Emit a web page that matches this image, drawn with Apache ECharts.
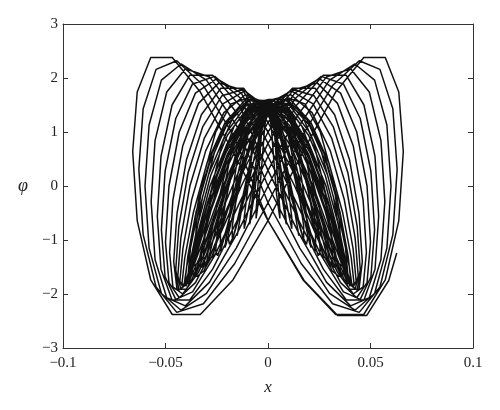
<!DOCTYPE html>
<html>
<head>
<meta charset="utf-8">
<script src="https://cdn.jsdelivr.net/npm/echarts@6/dist/echarts.min.js"></script>
<style>html,body{margin:0;padding:0;background:#fff;}#chart{width:500px;height:410px;}</style>
</head>
<body>
<div id="chart"></div>
<script>
// Axis ticks
const xTicks = [-0.1, -0.05, 0, 0.05, 0.1];
const yTicks = [-3, -2, -1, 0, 1, 2, 3];

// Trajectory, loop by loop (x values and phi values)
// tiny loops near the centre
const xT1 = [0,.0016,.003,.0042,.0052,.0058,.006,.0058,.0052,.0042,.003,.0016,0,-.0016,-.003,-.0042,-.0052,-.0058,-.006,-.0058,-.0052,-.0042,-.003,-.0016];
const pT1 = [1.50,1.10,.40,-.16,-.44,-.60,-.60,-.44,-.16,.40,1.10,1.50,1.50,1.10,.40,-.16,-.44,-.60,-.60,-.44,-.16,.40,1.10,1.50];
const xT2 = [0,.0023,.0045,.0064,.0078,.0087,.009,.0087,.0078,.0064,.0045,.0023,0,-.0023,-.0045,-.0064,-.0078,-.0087,-.009,-.0087,-.0078,-.0064,-.0045,-.0023];
const pT2 = [1.54,1.23,.59,-.09,-.44,-.67,-.71,-.57,-.28,.20,.94,1.43,1.54,1.23,.59,-.09,-.44,-.67,-.71,-.57,-.28,.20,.94,1.43];
const xT3 = [0,.0031,.006,.0085,.0104,.0116,.012,.0116,.0104,.0085,.006,.0031,0,-.0031,-.006,-.0085,-.0104,-.0116,-.012,-.0116,-.0104,-.0085,-.006,-.0031];
const pT3 = [1.51,1.10,.40,-.21,-.58,-.79,-.79,-.58,-.21,.40,1.10,1.51,1.51,1.10,.40,-.21,-.58,-.79,-.79,-.58,-.21,.40,1.10,1.51];
const xT4 = [0,.0039,.0075,.0106,.013,.0145,.015,.0145,.013,.0106,.0075,.0039,0,-.0039,-.0075,-.0106,-.013,-.0145,-.015,-.0145,-.013,-.0106,-.0075,-.0039];
const pT4 = [1.53,1.32,.77,0,-.46,-.80,-.92,-.80,-.46,0,.77,1.32,1.53,1.32,.77,0,-.46,-.80,-.92,-.80,-.46,0,.77,1.32];
// narrow loops (dense central band)
const xM1 = [0,.0047,.009,.0127,.0156,.0174,.018,.0174,.0156,.0127,.009,.0047,0,-.0047,-.009,-.0127,-.0156,-.0174,-.018,-.0174,-.0156,-.0127,-.009,-.0047];
const pM1 = [1.51,1.10,.40,-.27,-.74,-1.01,-1.01,-.74,-.27,.40,1.10,1.51,1.51,1.10,.40,-.27,-.74,-1.01,-1.01,-.74,-.27,.40,1.10,1.51];
const xMa = [0,.0051,.0098,.0138,.0169,.0188,.0195,.0188,.0169,.0138,.0098,.0051,0,-.0051,-.0098,-.0138,-.0169,-.0188,-.0195,-.0188,-.0169,-.0138,-.0098,-.0051];
const pMa = [1.37,.79,0,-.54,-.94,-1.08,-.94,-.54,0,.79,1.37,1.58,1.37,.79,0,-.54,-.94,-1.08,-.94,-.54,0,.79,1.37,1.58];
const xM2 = [0,.0054,.0105,.0148,.0182,.0203,.021,.0203,.0182,.0148,.0105,.0054,0,-.0054,-.0105,-.0148,-.0182,-.0203,-.021,-.0203,-.0182,-.0148,-.0105,-.0054];
const pM2 = [1.54,1.23,.59,-.15,-.70,-1.06,-1.14,-.91,-.44,.20,.94,1.43,1.54,1.23,.59,-.15,-.70,-1.06,-1.14,-.91,-.44,.20,.94,1.43];
const xM3 = [0,.0062,.012,.017,.0208,.0232,.024,.0232,.0208,.017,.012,.0062,0,-.0062,-.012,-.017,-.0208,-.0232,-.024,-.0232,-.0208,-.017,-.012,-.0062];
const pM3 = [1.52,1.11,.41,-.32,-.88,-1.21,-1.21,-.88,-.32,.41,1.11,1.52,1.52,1.11,.41,-.32,-.88,-1.21,-1.21,-.88,-.32,.41,1.11,1.52];
const xMb = [0,.0066,.0128,.018,.0221,.0246,.0255,.0246,.0221,.018,.0128,.0066,0,-.0066,-.0128,-.018,-.0221,-.0246,-.0255,-.0246,-.0221,-.018,-.0128,-.0066];
const pMb = [1.46,.96,.21,-.50,-1.03,-1.29,-1.20,-.79,-.17,.61,1.25,1.57,1.46,.96,.21,-.50,-1.03,-1.29,-1.20,-.79,-.17,.61,1.25,1.57];
const xM4 = [0,.007,.0135,.0191,.0234,.0261,.027,.0261,.0234,.0191,.0135,.007,0,-.007,-.0135,-.0191,-.0234,-.0261,-.027,-.0261,-.0234,-.0191,-.0135,-.007];
const pM4 = [1.53,1.32,.77,0,-.68,-1.17,-1.35,-1.17,-.68,0,.77,1.32,1.53,1.32,.77,0,-.68,-1.17,-1.35,-1.17,-.68,0,.77,1.32];
const xM5 = [0,.0078,.015,.0212,.026,.029,.03,.029,.026,.0212,.015,.0078,0,-.0078,-.015,-.0212,-.026,-.029,-.03,-.029,-.026,-.0212,-.015,-.0078];
const pM5 = [1.54,1.23,.59,-.19,-.88,-1.34,-1.44,-1.15,-.56,.20,.94,1.43,1.54,1.23,.59,-.19,-.88,-1.34,-1.44,-1.15,-.56,.20,.94,1.43];
const xMc = [0,.0082,.0158,.0223,.0273,.0304,.0315,.0304,.0273,.0223,.0158,.0082,0,-.0082,-.0158,-.0223,-.0273,-.0304,-.0315,-.0304,-.0273,-.0223,-.0158,-.0082];
const pMc = [1.39,.80,0,-.75,-1.30,-1.50,-1.30,-.75,0,.80,1.39,1.60,1.39,.80,0,-.75,-1.30,-1.50,-1.30,-.75,0,.80,1.39,1.60];
const xM6 = [0,.0085,.0165,.0233,.0286,.0319,.033,.0319,.0286,.0233,.0165,.0085,0,-.0085,-.0165,-.0233,-.0286,-.0319,-.033,-.0319,-.0286,-.0233,-.0165,-.0085];
const pM6 = [1.52,1.11,.41,-.40,-1.10,-1.50,-1.50,-1.10,-.40,.41,1.11,1.52,1.52,1.11,.41,-.40,-1.10,-1.50,-1.50,-1.10,-.40,.41,1.11,1.52];
const xM7 = [0,.0091,.0175,.0247,.0303,.0338,.035,.0338,.0303,.0247,.0175,.0091,0,-.0091,-.0175,-.0247,-.0303,-.0338,-.035,-.0338,-.0303,-.0247,-.0175,-.0091];
const pM7 = [1.53,1.32,.77,0,-.81,-1.40,-1.62,-1.40,-.81,0,.77,1.32,1.53,1.32,.77,0,-.81,-1.40,-1.62,-1.40,-.81,0,.77,1.32];
const xMd = [0,.0093,.018,.0255,.0312,.0348,.036,.0348,.0312,.0255,.018,.0093,0,-.0093,-.018,-.0255,-.0312,-.0348,-.036,-.0348,-.0312,-.0255,-.018,-.0093];
const pMd = [1.31,.63,-.22,-1.04,-1.57,-1.68,-1.35,-.65,.22,1.00,1.52,1.64,1.31,.63,-.22,-1.04,-1.57,-1.68,-1.35,-.65,.22,1.00,1.52,1.64];
const xM8 = [0,.0096,.0185,.0262,.032,.0357,.037,.0357,.032,.0262,.0185,.0096,0,-.0096,-.0185,-.0262,-.032,-.0357,-.037,-.0357,-.032,-.0262,-.0185,-.0096];
const pM8 = [1.48,.97,.21,-.65,-1.35,-1.68,-1.57,-1.04,-.22,.61,1.27,1.59,1.48,.97,.21,-.65,-1.35,-1.68,-1.57,-1.04,-.22,.61,1.27,1.59];
// loops opening outwards
const xL21 = [0,.01,.0193,.0272,.0333,.0372,.0385,.0372,.0333,.0272,.0193,.01,0,-.01,-.0193,-.0272,-.0333,-.0372,-.0385,-.0372,-.0333,-.0272,-.0193,-.01];
const pL21 = [1.53,1.32,.77,0,-.90,-1.56,-1.80,-1.56,-.90,0,.77,1.32,1.53,1.32,.77,0,-.90,-1.56,-1.80,-1.56,-.90,0,.77,1.32];
const xL19 = [0,.0102,.0198,.0279,.0342,.0382,.0395,.0382,.0342,.0279,.0198,.0102,0,-.0102,-.0198,-.0279,-.0342,-.0382,-.0395,-.0382,-.0342,-.0279,-.0198,-.0102];
const pL19 = [1.54,1.23,.59,-.24,-1.11,-1.69,-1.81,-1.45,-.70,.20,.94,1.43,1.54,1.23,.59,-.24,-1.11,-1.69,-1.81,-1.45,-.70,.20,.94,1.43];
const xL16 = [0,.0105,.0203,.0286,.0351,.0391,.0405,.0391,.0351,.0286,.0203,.0105,0,-.0105,-.0203,-.0286,-.0351,-.0391,-.0405,-.0391,-.0351,-.0286,-.0203,-.0105];
const pL16 = [1.53,1.12,.41,-.48,-1.30,-1.78,-1.78,-1.30,-.48,.41,1.12,1.53,1.53,1.12,.41,-.48,-1.30,-1.78,-1.78,-1.30,-.48,.41,1.12,1.53];
const xL20 = [0,.0101,.0195,.0276,.0338,.0377,.039,.0377,.0338,.0276,.0195,.0101,0,-.0101,-.0195,-.0276,-.0338,-.0377,-.039,-.0377,-.0338,-.0276,-.0195,-.0101];
const pL20 = [1.40,.93,.20,-.69,-1.43,-1.78,-1.66,-1.10,-.24,.58,1.21,1.51,1.40,.93,.20,-.69,-1.43,-1.78,-1.66,-1.10,-.24,.58,1.21,1.51];
const xL15 = [0,.0104,.02,.0283,.0346,.0386,.04,.0386,.0346,.0283,.02,.0104,0,-.0104,-.02,-.0283,-.0346,-.0386,-.04,-.0386,-.0346,-.0283,-.02,-.0104];
const pL15 = [1.56,1.35,.78,0,-.93,-1.61,-1.86,-1.61,-.93,0,.78,1.35,1.56,1.35,.78,0,-.93,-1.61,-1.86,-1.61,-.93,0,.78,1.35];
const xL14 = [0,.0106,.0205,.029,.0355,.0396,.041,.0396,.0355,.029,.0205,.0106,0,-.0106,-.0205,-.029,-.0355,-.0396,-.041,-.0396,-.0355,-.029,-.0205,-.0106];
const pL14 = [1.60,1.28,.62,-.24,-1.14,-1.73,-1.85,-1.48,-.72,.21,.98,1.49,1.60,1.28,.62,-.24,-1.14,-1.73,-1.85,-1.48,-.72,.21,.98,1.49];
const xL13 = [0,.0109,.021,.0297,.0364,.0406,.042,.0406,.0364,.0297,.021,.0109,0,-.0109,-.021,-.0297,-.0364,-.0406,-.042,-.0406,-.0364,-.0297,-.021,-.0109];
const pL13 = [1.60,1.17,.43,-.49,-1.33,-1.82,-1.82,-1.33,-.49,.43,1.17,1.60,1.60,1.17,.43,-.49,-1.33,-1.82,-1.82,-1.33,-.49,.43,1.17,1.60];
const xL12 = [0,.0111,.0215,.0304,.0372,.0415,.043,.0415,.0372,.0304,.0215,.0111,0,-.0111,-.0215,-.0304,-.0372,-.0415,-.043,-.0415,-.0372,-.0304,-.0215,-.0111];
const pL12 = [1.58,1.04,.22,-.73,-1.51,-1.88,-1.76,-1.16,-.25,.65,1.36,1.69,1.58,1.04,.22,-.73,-1.51,-1.88,-1.76,-1.16,-.25,.65,1.36,1.69];
const xL11 = [0,.0114,.022,.0311,.0381,.0425,.044,.0425,.0381,.0311,.022,.0114,0,-.0114,-.022,-.0311,-.0381,-.0425,-.044,-.0425,-.0381,-.0311,-.022,-.0114];
const pL11 = [1.52,.88,0,-.96,-1.66,-1.92,-1.66,-.96,0,.88,1.52,1.76,1.52,.88,0,-.96,-1.66,-1.92,-1.66,-.96,0,.88,1.52,1.76];
const xL10 = [0,.0117,.0225,.0318,.039,.0435,.045,.0435,.039,.0318,.0225,.0117,0,-.0117,-.0225,-.0318,-.039,-.0435,-.045,-.0435,-.039,-.0318,-.0225,-.0117];
const pL10 = [1.44,.69,-.26,-1.19,-1.80,-1.93,-1.55,-.75,.24,1.10,1.67,1.79,1.44,.69,-.26,-1.19,-1.80,-1.93,-1.55,-.75,.24,1.10,1.67,1.79];
const xL9 = [0,.0119,.023,.0325,.0398,.0444,.046,.0444,.0398,.0325,.023,.0119,0,-.0119,-.023,-.0325,-.0398,-.0444,-.046,-.0444,-.0398,-.0325,-.023,-.0119];
const pL9 = [1.32,.48,-.51,-1.40,-1.91,-1.91,-1.40,-.51,.48,1.32,1.81,1.81,1.32,.48,-.51,-1.40,-1.91,-1.91,-1.40,-.51,.48,1.32,1.81,1.81];
const xL8 = [0,.0124,.024,.0339,.0416,.0464,.048,.0464,.0416,.0339,.024,.0124,0,-.0124,-.024,-.0339,-.0416,-.0464,-.048,-.0464,-.0416,-.0339,-.024,-.0124];
const pL8 = [1.18,.25,-.77,-1.60,-2.00,-1.87,-1.23,-.26,.74,1.53,1.91,1.78,1.18,.25,-.77,-1.60,-2.00,-1.87,-1.23,-.26,.74,1.53,1.91,1.78];
const xL7 = [0,.013,.025,.0354,.0433,.0483,.05,.0483,.0433,.0354,.025,.013,0,-.013,-.025,-.0354,-.0433,-.0483,-.05,-.0483,-.0433,-.0354,-.025,-.013];
const pL7 = [1.00,0,-1.04,-1.79,-2.07,-1.79,-1.04,0,1.00,1.72,1.99,1.72,1.00,0,-1.04,-1.79,-2.07,-1.79,-1.04,0,1.00,1.72,1.99,1.72];
const xL6 = [0,.0135,.026,.0368,.045,.0502,.052,.0502,.045,.0368,.026,.0135,0,-.0135,-.026,-.0368,-.045,-.0502,-.052,-.0502,-.045,-.0368,-.026,-.0135];
const pL6 = [.79,-.28,-1.29,-1.96,-2.10,-1.68,-.81,.27,1.25,1.89,2.03,1.63,.79,-.28,-1.29,-1.96,-2.10,-1.68,-.81,.27,1.25,1.89,2.03,1.63];
const xL5 = [0,.014,.027,.0382,.0468,.0522,.054,.0522,.0468,.0382,.027,.014,0,-.014,-.027,-.0382,-.0468,-.0522,-.054,-.0522,-.0468,-.0382,-.027,-.014];
const pL5 = [.55,-.56,-1.54,-2.11,-2.11,-1.54,-.56,.55,1.50,2.05,2.05,1.50,.55,-.56,-1.54,-2.11,-2.11,-1.54,-.56,.55,1.50,2.05,2.05,1.50];
const xL4 = [0,.0148,.0285,.0403,.0494,.0551,.057,.0551,.0494,.0403,.0285,.0148,0,-.0148,-.0285,-.0403,-.0494,-.0551,-.057,-.0551,-.0494,-.0403,-.0285,-.0148];
const pL4 = [.29,-.86,-1.78,-2.22,-2.07,-1.36,-.29,.84,1.74,2.17,2.02,1.33,.29,-.86,-1.78,-2.22,-2.07,-1.36,-.29,.84,1.74,2.17,2.02,1.33];
const xL3 = [0,.0155,.03,.0424,.052,.058,.06,.058,.052,.0424,.03,.0155,0,-.0155,-.03,-.0424,-.052,-.058,-.06,-.058,-.052,-.0424,-.03,-.0155];
const pL3 = [0,-1.15,-1.99,-2.30,-1.99,-1.15,0,1.13,1.96,2.26,1.96,1.13,0,-1.15,-1.99,-2.30,-1.99,-1.15,0,1.13,1.96,2.26,1.96,1.13];
const xL2 = [0,.0163,.0315,.0445,.0546,.0609,.063,.0609,.0546,.0445,.0315,.0163,0,-.0163,-.0315,-.0445,-.0546,-.0609,-.063,-.0609,-.0546,-.0445,-.0315,-.0163];
const pL2 = [-.31,-1.44,-2.18,-2.34,-1.87,-.90,.31,1.43,2.16,2.32,1.86,.90,-.31,-1.44,-2.18,-2.34,-1.87,-.90,.31,1.43,2.16,2.32,1.86,.90];
const xL1 = [0,.0171,.033,.0467,.0572,.0638,.066,.0638,.0572,.0467,.033,.0171,0,-.0171,-.033,-.0467,-.0572,-.0638,-.066,-.0638,-.0572,-.0467,-.033,-.0171];
const pL1 = [-.64,-1.74,-2.38,-2.38,-1.74,-.64,.64,1.74,2.38,2.38,1.74,.64,-.64,-1.74,-2.38,-2.38,-1.74,-.64,.64,1.74,2.38,2.38,1.74,.64];
const xL0 = [0,.0176,.034,.0481,.0589,.0628];
const pL0 = [-.64,-1.75,-2.40,-2.40,-1.75,-1.24];

const loops = [
  [xT1,pT1],[xT2,pT2],[xT3,pT3],[xT4,pT4],
  [xM1,pM1],[xMa,pMa],[xM2,pM2],[xM3,pM3],[xMb,pMb],[xM4,pM4],[xM5,pM5],[xMc,pMc],
  [xM6,pM6],[xM7,pM7],[xMd,pMd],[xM8,pM8],
  [xL21,pL21],[xL19,pL19],[xL16,pL16],[xL20,pL20],[xL15,pL15],[xL14,pL14],
  [xL13,pL13],[xL12,pL12],[xL11,pL11],[xL10,pL10],[xL9,pL9],[xL8,pL8],
  [xL7,pL7],[xL6,pL6],[xL5,pL5],[xL4,pL4],[xL3,pL3],[xL2,pL2],[xL1,pL1],[xL0,pL0]
];
const data = [];
loops.forEach(function(l){ l[0].forEach(function(x,i){ data.push([x, l[1][i]]); }); });

function fmt(v){
  const r = Math.round(v*100)/100;
  return r < 0 ? '\u2212' + Math.abs(r) : String(r);
}
const serif = 'Liberation Serif';
const axisCol = '#333';
const lblStyle = {color:'#222', fontFamily:serif, fontSize:15};

const chart = echarts.init(document.getElementById('chart'), null, {renderer:'canvas'});
chart.setOption({
  animation:false,
  backgroundColor:'#fff',
  grid:{left:63, right:27, top:24, bottom:62, containLabel:false},
  xAxis:[
    {type:'value', min:xTicks[0], max:xTicks[xTicks.length-1], interval:0.05, position:'bottom',
     axisLine:{onZero:false, lineStyle:{color:axisCol, width:1}},
     axisTick:{inside:true, length:5, lineStyle:{color:axisCol}},
     axisLabel:Object.assign({margin:8, formatter:fmt}, lblStyle),
     splitLine:{show:false},
     name:'x', nameLocation:'middle', nameGap:31,
     nameTextStyle:{fontFamily:serif, fontStyle:'italic', fontSize:17, color:'#222'}},
    {type:'value', min:xTicks[0], max:xTicks[xTicks.length-1], interval:0.05, position:'top',
     axisLine:{onZero:false, lineStyle:{color:axisCol, width:1}},
     axisTick:{inside:true, length:5, lineStyle:{color:axisCol}},
     axisLabel:{show:false}, splitLine:{show:false}}
  ],
  yAxis:[
    {type:'value', min:yTicks[0], max:yTicks[yTicks.length-1], interval:1, position:'left',
     axisLine:{onZero:false, lineStyle:{color:axisCol, width:1}},
     axisTick:{inside:true, length:5, lineStyle:{color:axisCol}},
     axisLabel:Object.assign({margin:5, formatter:fmt}, lblStyle),
     splitLine:{show:false},
     name:'\u03c6', nameLocation:'middle', nameGap:35, nameRotate:0,
     nameTextStyle:{fontFamily:serif, fontStyle:'italic', fontSize:18, color:'#222'}},
    {type:'value', min:yTicks[0], max:yTicks[yTicks.length-1], interval:1, position:'right',
     axisLine:{onZero:false, lineStyle:{color:axisCol, width:1}},
     axisTick:{inside:true, length:5, lineStyle:{color:axisCol}},
     axisLabel:{show:false}, splitLine:{show:false}}
  ],
  series:[{
    type:'line', data:data, xAxisIndex:0, yAxisIndex:0,
    showSymbol:false, symbol:'none', smooth:false, clip:true,
    lineStyle:{color:'#111', width:1.5}
  }]
});
</script>
</body>
</html>
